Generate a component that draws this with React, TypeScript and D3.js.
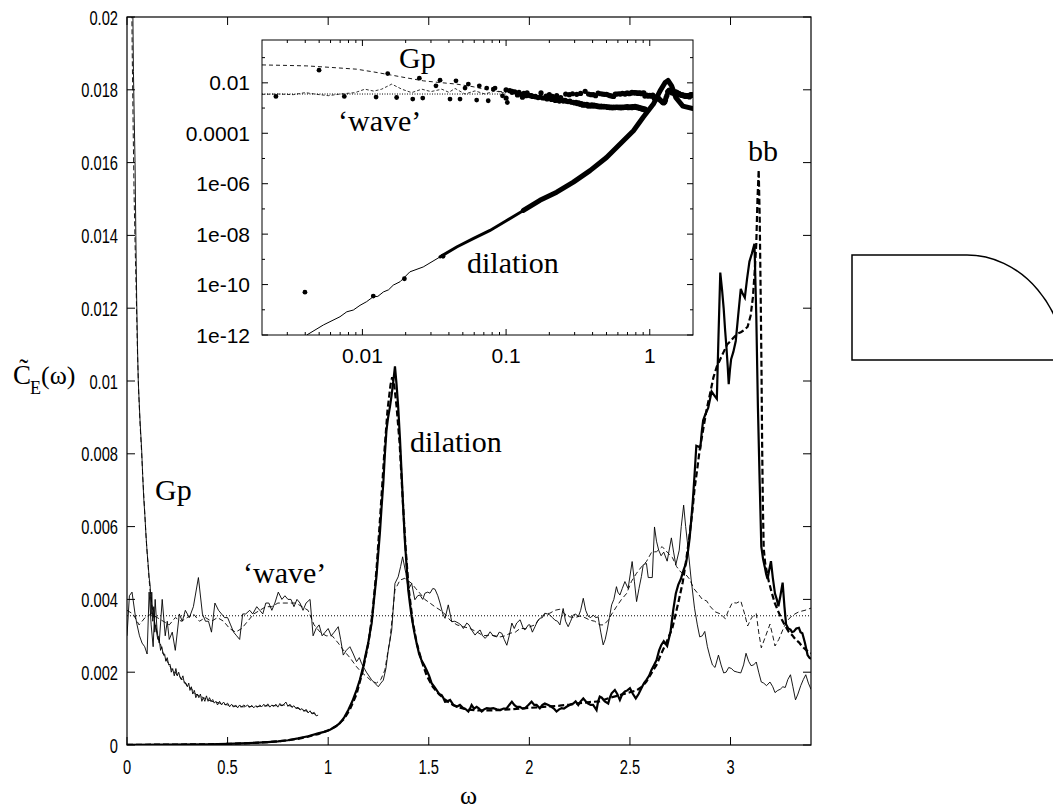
import React from 'react';
import * as d3 from 'd3';

type P = [number, number];

// ---------- main panel data ----------
const xTicksMain = [0, 0.5, 1, 1.5, 2, 2.5, 3];
const xTickLabelsMain = ['0', '0.5', '1', '1.5', '2', '2.5', '3'];
const yTicksMain = [0, 0.002, 0.004, 0.006, 0.008, 0.01, 0.012, 0.014, 0.016, 0.018, 0.02];
const yTickLabelsMain = ['0', '0.002', '0.004', '0.006', '0.008', '0.01', '0.012', '0.014', '0.016', '0.018', '0.02'];

const waveContinuum: P[] = [[0, 0.00355], [3.4, 0.00355]];

const gpSolid: P[] = [[0.028,0.0208],[0.032,0.0185],[0.036,0.0172],[0.04,0.016],[0.044,0.014],[0.048,0.0123],[0.052,0.011],[0.056,0.01],[0.06,0.0095],[0.064,0.009],[0.068,0.0086],[0.073,0.0081],[0.078,0.0074],[0.083,0.0068],[0.089,0.0063],[0.094,0.0058],[0.1,0.0053],[0.106,0.0049],[0.11,0.0046],[0.115,0.0044],[0.12,0.0036],[0.123,0.0042],[0.128,0.0034],[0.133,0.0038],[0.138,0.0031],[0.143,0.0033],[0.147,0.0031],[0.153,0.0029],[0.16,0.0029],[0.167,0.0026],[0.173,0.0027],[0.18,0.0025],[0.187,0.0025],[0.193,0.0023],[0.2,0.0024],[0.207,0.0022],[0.214,0.00222],[0.22,0.002],[0.227,0.0021],[0.235,0.0019],[0.243,0.0021],[0.25,0.0019],[0.257,0.002],[0.263,0.00188],[0.27,0.0018],[0.278,0.0019],[0.285,0.0017],[0.293,0.0017],[0.3,0.0016],[0.307,0.0017],[0.313,0.0015],[0.32,0.0016],[0.327,0.0014],[0.335,0.0015],[0.342,0.0013],[0.35,0.0014],[0.357,0.0013],[0.365,0.0014],[0.372,0.0012],[0.379,0.0013],[0.387,0.0012],[0.395,0.00135],[0.403,0.0012],[0.41,0.0013],[0.418,0.0012],[0.426,0.00125],[0.434,0.00115],[0.442,0.0012],[0.45,0.0011],[0.46,0.0012],[0.47,0.0011],[0.48,0.00118],[0.49,0.0011],[0.5,0.00115],[0.51,0.00105],[0.52,0.00112],[0.53,0.00104],[0.54,0.0011],[0.55,0.00102],[0.56,0.0011],[0.57,0.00104],[0.58,0.0011],[0.59,0.00106],[0.6,0.0011],[0.61,0.00103],[0.62,0.00109],[0.63,0.00102],[0.64,0.00108],[0.65,0.00104],[0.66,0.0011],[0.67,0.00105],[0.68,0.00112],[0.69,0.00106],[0.7,0.00113],[0.71,0.00104],[0.72,0.0011],[0.73,0.00106],[0.74,0.00112],[0.75,0.00104],[0.76,0.00114],[0.77,0.00107],[0.78,0.00112],[0.79,0.00118],[0.8,0.00106],[0.81,0.00112],[0.82,0.00103],[0.83,0.00108],[0.84,0.001],[0.85,0.00104],[0.86,0.00096],[0.87,0.001],[0.88,0.00092],[0.89,0.00098],[0.9,0.00088],[0.91,0.00094],[0.92,0.00085],[0.93,0.0009],[0.94,0.0008],[0.95,0.00082]];

const gpDashed: P[] = [[0.022,0.0212],[0.026,0.019],[0.03,0.0172],[0.035,0.0152],[0.04,0.0138],[0.046,0.0124],[0.052,0.0108],[0.058,0.0097],[0.065,0.0088],[0.072,0.0081],[0.08,0.0072],[0.088,0.0064],[0.096,0.0056],[0.104,0.005],[0.112,0.0044],[0.12,0.004],[0.13,0.0036],[0.14,0.0033],[0.15,0.0031],[0.16,0.0029],[0.17,0.0027],[0.18,0.0025],[0.19,0.0024],[0.2,0.0023],[0.21,0.0022],[0.22,0.0021],[0.23,0.002],[0.24,0.002],[0.25,0.0019],[0.26,0.0019],[0.27,0.0018],[0.28,0.0018],[0.3,0.0016],[0.32,0.00155],[0.34,0.0014],[0.36,0.00135],[0.38,0.0013],[0.4,0.00125],[0.42,0.0012],[0.44,0.00118],[0.46,0.00115],[0.48,0.00112],[0.5,0.0011],[0.52,0.00108],[0.54,0.00106],[0.56,0.00105],[0.58,0.00105],[0.6,0.00105],[0.62,0.00106],[0.64,0.00105],[0.66,0.00106],[0.68,0.00107],[0.7,0.00108],[0.72,0.00108],[0.74,0.00108],[0.76,0.00109],[0.78,0.0011],[0.8,0.00109],[0.82,0.00106],[0.84,0.00102],[0.86,0.00099],[0.88,0.00095],[0.9,0.00092],[0.92,0.00088],[0.94,0.00084],[0.95,0.00082]];

const waveSolid: P[] = [[0,0.003],[0.012,0.0041],[0.025,0.0042],[0.04,0.0036],[0.05,0.0033],[0.062,0.003],[0.075,0.0028],[0.088,0.0027],[0.1,0.0025],[0.11,0.0042],[0.12,0.0033],[0.13,0.0027],[0.14,0.004],[0.15,0.0031],[0.16,0.0028],[0.175,0.004],[0.19,0.003],[0.2,0.0034],[0.21,0.0029],[0.225,0.0031],[0.24,0.0026],[0.26,0.0036],[0.275,0.0034],[0.29,0.0037],[0.31,0.0035],[0.33,0.0038],[0.355,0.0046],[0.375,0.0036],[0.39,0.0034],[0.405,0.0034],[0.42,0.0031],[0.437,0.0039],[0.455,0.0037],[0.47,0.0036],[0.485,0.0035],[0.5,0.0035],[0.515,0.0033],[0.53,0.0031],[0.545,0.003],[0.56,0.0029],[0.575,0.0036],[0.59,0.0036],[0.61,0.0037],[0.625,0.0036],[0.645,0.0038],[0.66,0.0037],[0.675,0.0036],[0.69,0.0039],[0.705,0.0039],[0.72,0.0037],[0.735,0.0039],[0.752,0.0042],[0.77,0.004],[0.785,0.0041],[0.8,0.004],[0.815,0.004],[0.83,0.0038],[0.845,0.004],[0.86,0.0039],[0.875,0.0037],[0.89,0.0039],[0.91,0.004],[0.925,0.003],[0.94,0.0032],[0.955,0.0033],[0.97,0.003],[0.985,0.0031],[1,0.0032],[1.015,0.003],[1.03,0.0031],[1.05,0.00325],[1.062,0.0029],[1.075,0.00247],[1.09,0.0026],[1.108,0.0027],[1.125,0.0025],[1.141,0.00229],[1.155,0.0024],[1.166,0.00224],[1.19,0.002],[1.216,0.00179],[1.235,0.00168],[1.249,0.0016],[1.262,0.0017],[1.274,0.00178],[1.287,0.0021],[1.299,0.00261],[1.316,0.00316],[1.332,0.00444],[1.348,0.00462],[1.36,0.0049],[1.37,0.00517],[1.386,0.00472],[1.398,0.00426],[1.415,0.00444],[1.431,0.00399],[1.445,0.0041],[1.456,0.00412],[1.47,0.004],[1.481,0.00417],[1.495,0.0042],[1.506,0.00417],[1.52,0.0043],[1.531,0.00428],[1.545,0.0041],[1.556,0.0039],[1.57,0.0036],[1.581,0.00348],[1.597,0.00385],[1.614,0.00339],[1.63,0.0034],[1.647,0.00335],[1.66,0.0033],[1.672,0.0032],[1.689,0.00335],[1.7,0.0033],[1.713,0.00316],[1.73,0.00302],[1.742,0.0031],[1.755,0.00316],[1.768,0.003],[1.78,0.00293],[1.792,0.003],[1.805,0.00311],[1.82,0.003],[1.838,0.00297],[1.85,0.0031],[1.863,0.00307],[1.875,0.0029],[1.888,0.00274],[1.9,0.003],[1.913,0.00335],[1.925,0.0032],[1.937,0.00335],[1.954,0.00344],[1.97,0.0032],[1.978,0.00316],[1.995,0.0033],[2.003,0.0033],[2.015,0.0031],[2.028,0.00325],[2.04,0.0034],[2.052,0.00348],[2.065,0.0035],[2.077,0.00362],[2.09,0.0036],[2.102,0.00357],[2.115,0.0035],[2.127,0.00343],[2.14,0.0034],[2.152,0.0033],[2.168,0.00375],[2.18,0.0034],[2.193,0.00325],[2.205,0.0034],[2.218,0.00357],[2.23,0.0036],[2.243,0.00352],[2.255,0.0037],[2.268,0.00403],[2.28,0.0037],[2.292,0.00354],[2.305,0.0035],[2.317,0.00357],[2.33,0.0035],[2.342,0.00352],[2.355,0.0031],[2.367,0.00275],[2.377,0.0029],[2.387,0.00316],[2.398,0.0035],[2.409,0.00385],[2.42,0.004],[2.433,0.00435],[2.44,0.0042],[2.45,0.00412],[2.462,0.0043],[2.475,0.00449],[2.491,0.0043],[2.511,0.00504],[2.522,0.0045],[2.533,0.00394],[2.545,0.0043],[2.557,0.00463],[2.566,0.00495],[2.582,0.00499],[2.591,0.0046],[2.611,0.0046],[2.622,0.00599],[2.632,0.0056],[2.643,0.00535],[2.655,0.0052],[2.668,0.0053],[2.685,0.00505],[2.706,0.00569],[2.717,0.0053],[2.728,0.00495],[2.745,0.00535],[2.755,0.006],[2.767,0.00659],[2.777,0.006],[2.787,0.0055],[2.804,0.00456],[2.821,0.00376],[2.835,0.0033],[2.847,0.00297],[2.86,0.003],[2.872,0.00312],[2.885,0.0027],[2.898,0.00242],[2.91,0.0022],[2.923,0.00213],[2.94,0.00247],[2.953,0.0022],[2.966,0.00198],[2.978,0.002],[2.991,0.00213],[3.005,0.0021],[3.017,0.00203],[3.035,0.002],[3.051,0.00198],[3.065,0.0022],[3.077,0.00252],[3.09,0.0023],[3.102,0.00218],[3.115,0.0022],[3.128,0.00228],[3.14,0.002],[3.153,0.00173],[3.165,0.0017],[3.179,0.00163],[3.196,0.00173],[3.21,0.0016],[3.221,0.00144],[3.235,0.0015],[3.247,0.00153],[3.26,0.0016],[3.272,0.00158],[3.285,0.0018],[3.298,0.00193],[3.31,0.0016],[3.323,0.00124],[3.335,0.0014],[3.349,0.00163],[3.362,0.0018],[3.374,0.00193],[3.387,0.0017],[3.4,0.00153]];

const waveDashed: P[] = [[0,0.0037],[0.03,0.0036],[0.06,0.0033],[0.09,0.0035],[0.12,0.0036],[0.15,0.0035],[0.18,0.0034],[0.21,0.0033],[0.24,0.0035],[0.27,0.0034],[0.3,0.0035],[0.33,0.0036],[0.36,0.0034],[0.39,0.0035],[0.42,0.0034],[0.45,0.0035],[0.48,0.0034],[0.51,0.0032],[0.54,0.0031],[0.57,0.0032],[0.6,0.0034],[0.63,0.0036],[0.66,0.0037],[0.69,0.0038],[0.72,0.0038],[0.75,0.0039],[0.78,0.0039],[0.81,0.0039],[0.84,0.0039],[0.87,0.0038],[0.9,0.0037],[0.93,0.0033],[0.96,0.0031],[0.99,0.003],[1.02,0.003],[1.05,0.0028],[1.075,0.00261],[1.108,0.0024],[1.141,0.00215],[1.165,0.002],[1.191,0.00188],[1.215,0.00176],[1.24,0.0017],[1.262,0.0018],[1.282,0.00206],[1.295,0.0025],[1.307,0.00288],[1.32,0.0036],[1.332,0.00426],[1.345,0.0044],[1.357,0.00453],[1.381,0.00458],[1.4,0.0045],[1.415,0.00444],[1.435,0.0043],[1.456,0.00417],[1.48,0.004],[1.506,0.0039],[1.53,0.0038],[1.556,0.00371],[1.58,0.0036],[1.606,0.00343],[1.64,0.0033],[1.672,0.00325],[1.705,0.0032],[1.738,0.00311],[1.77,0.003],[1.805,0.00302],[1.83,0.003],[1.855,0.00297],[1.88,0.003],[1.904,0.00307],[1.93,0.0031],[1.954,0.0032],[1.98,0.0032],[2.003,0.00325],[2.028,0.0033],[2.052,0.00348],[2.077,0.0036],[2.102,0.00362],[2.127,0.0037],[2.152,0.00373],[2.176,0.0036],[2.201,0.00352],[2.226,0.0035],[2.251,0.00354],[2.276,0.0035],[2.301,0.00343],[2.325,0.0034],[2.35,0.0033],[2.37,0.0033],[2.392,0.00343],[2.41,0.0036],[2.433,0.0038],[2.458,0.004],[2.483,0.00416],[2.508,0.0045],[2.533,0.00472],[2.558,0.0049],[2.582,0.00504],[2.608,0.0053],[2.632,0.00531],[2.66,0.00545],[2.685,0.0053],[2.711,0.00515],[2.732,0.0049],[2.753,0.00475],[2.775,0.0047],[2.796,0.00456],[2.817,0.0043],[2.838,0.00416],[2.86,0.004],[2.881,0.00396],[2.9,0.0038],[2.923,0.00366],[2.95,0.0036],[2.974,0.00347],[2.99,0.0037],[3.009,0.00391],[3.03,0.0039],[3.051,0.00396],[3.07,0.0036],[3.085,0.00327],[3.105,0.0035],[3.128,0.00361],[3.14,0.0031],[3.153,0.00267],[3.175,0.003],[3.196,0.00332],[3.21,0.003],[3.221,0.00272],[3.24,0.0029],[3.264,0.00322],[3.28,0.0034],[3.298,0.00351],[3.32,0.0036],[3.34,0.00366],[3.37,0.0037],[3.4,0.00376]];

const dilationSolid: P[] = [[0,0.000005],[0.2,0.00001],[0.4,0.00002],[0.5,0.00003],[0.6,0.00005],[0.7,0.00008],[0.75,0.0001],[0.8,0.00013],[0.85,0.00018],[0.9,0.00024],[0.95,0.00032],[0.98,0.00036],[1.009,0.00042],[1.035,0.0005],[1.058,0.0006],[1.08,0.00076],[1.1,0.00096],[1.12,0.0012],[1.141,0.00151],[1.158,0.0018],[1.174,0.00215],[1.187,0.0025],[1.199,0.0028],[1.208,0.0031],[1.216,0.00334],[1.228,0.004],[1.24,0.00463],[1.248,0.0052],[1.257,0.00582],[1.265,0.0065],[1.274,0.00719],[1.282,0.008],[1.29,0.00866],[1.298,0.009],[1.307,0.00929],[1.315,0.0096],[1.324,0.01],[1.332,0.0104],[1.34,0.0099],[1.348,0.00929],[1.357,0.0084],[1.365,0.00746],[1.373,0.0065],[1.381,0.00563],[1.39,0.0049],[1.398,0.00426],[1.406,0.0039],[1.415,0.00352],[1.428,0.0031],[1.44,0.00279],[1.452,0.0025],[1.464,0.00233],[1.477,0.0022],[1.489,0.00206],[1.502,0.0019],[1.514,0.0017],[1.527,0.0016],[1.539,0.00151],[1.552,0.0014],[1.564,0.00137],[1.572,0.0013],[1.581,0.00119],[1.593,0.0012],[1.606,0.00124],[1.622,0.0011],[1.639,0.00105],[1.655,0.0011],[1.672,0.00101],[1.685,0.00098],[1.697,0.00092],[1.705,0.001],[1.713,0.0011],[1.725,0.001],[1.738,0.00105],[1.75,0.001],[1.763,0.00092],[1.775,0.00098],[1.788,0.00101],[1.805,0.001],[1.821,0.00101],[1.838,0.00098],[1.855,0.00096],[1.872,0.001],[1.888,0.00101],[1.9,0.0011],[1.913,0.00119],[1.925,0.0011],[1.937,0.00105],[1.953,0.00105],[1.966,0.001],[1.978,0.00101],[1.995,0.0011],[2.011,0.00119],[2.024,0.0011],[2.036,0.0011],[2.052,0.00101],[2.065,0.0011],[2.077,0.00114],[2.094,0.0011],[2.11,0.00105],[2.122,0.001],[2.135,0.00092],[2.148,0.00098],[2.16,0.00101],[2.172,0.001],[2.185,0.00105],[2.2,0.0011],[2.218,0.00114],[2.23,0.0012],[2.243,0.0011],[2.255,0.0012],[2.268,0.00128],[2.28,0.0012],[2.292,0.00114],[2.305,0.0011],[2.317,0.0011],[2.334,0.00096],[2.342,0.0012],[2.35,0.00133],[2.36,0.0013],[2.375,0.0012],[2.392,0.00114],[2.4,0.0013],[2.409,0.00142],[2.425,0.00151],[2.437,0.0014],[2.45,0.00124],[2.462,0.0014],[2.475,0.00147],[2.487,0.0015],[2.5,0.00156],[2.515,0.0014],[2.529,0.00128],[2.543,0.0014],[2.557,0.00156],[2.57,0.0017],[2.582,0.00179],[2.595,0.0019],[2.607,0.00206],[2.62,0.0022],[2.632,0.00233],[2.645,0.0026],[2.656,0.00275],[2.668,0.00285],[2.685,0.00272],[2.702,0.00312],[2.715,0.0037],[2.728,0.00416],[2.74,0.0044],[2.753,0.00456],[2.766,0.0048],[2.779,0.005],[2.788,0.0053],[2.796,0.00565],[2.805,0.0062],[2.813,0.00674],[2.822,0.0075],[2.83,0.00822],[2.84,0.0082],[2.85,0.00817],[2.857,0.0086],[2.864,0.00892],[2.876,0.0091],[2.889,0.00926],[2.898,0.0095],[2.906,0.00971],[2.92,0.0096],[2.932,0.00951],[2.94,0.0112],[2.949,0.01298],[2.958,0.0125],[2.966,0.01199],[2.973,0.0114],[2.98,0.0109],[2.986,0.0104],[2.991,0.00991],[2.997,0.0103],[3.003,0.0106],[3.014,0.0108],[3.026,0.0111],[3.038,0.0118],[3.051,0.01253],[3.06,0.0124],[3.071,0.01229],[3.082,0.0128],[3.094,0.01328],[3.106,0.0135],[3.119,0.01377],[3.128,0.0118],[3.136,0.00931],[3.145,0.0072],[3.153,0.00545],[3.162,0.0051],[3.17,0.0049],[3.177,0.0047],[3.184,0.00456],[3.192,0.0048],[3.201,0.00505],[3.21,0.0046],[3.221,0.00416],[3.23,0.004],[3.238,0.00381],[3.248,0.0041],[3.259,0.00446],[3.268,0.0038],[3.276,0.00332],[3.287,0.0032],[3.298,0.00317],[3.306,0.0031],[3.315,0.00312],[3.327,0.0032],[3.34,0.00322],[3.348,0.0031],[3.357,0.00307],[3.37,0.0028],[3.383,0.00247],[3.392,0.0024],[3.4,0.00237]];

const bbDashed: P[] = [[0,0.000005],[0.2,0.00001],[0.4,0.00002],[0.5,0.00003],[0.6,0.00005],[0.7,0.00008],[0.75,0.0001],[0.8,0.00013],[0.85,0.00017],[0.9,0.00023],[0.95,0.0003],[1,0.0004],[1.04,0.00052],[1.08,0.00072],[1.11,0.001],[1.141,0.0014],[1.17,0.002],[1.2,0.0028],[1.22,0.0036],[1.24,0.0048],[1.26,0.0064],[1.28,0.0081],[1.295,0.0092],[1.31,0.0099],[1.318,0.0101],[1.328,0.0099],[1.34,0.0093],[1.355,0.0083],[1.37,0.0068],[1.385,0.0054],[1.4,0.0043],[1.42,0.0034],[1.44,0.0028],[1.465,0.0023],[1.49,0.0019],[1.52,0.0016],[1.55,0.0014],[1.58,0.00125],[1.62,0.0011],[1.66,0.00102],[1.7,0.00097],[1.75,0.00095],[1.8,0.00095],[1.85,0.00096],[1.9,0.00098],[1.95,0.001],[2,0.00102],[2.05,0.00104],[2.1,0.00106],[2.15,0.00108],[2.2,0.00111],[2.25,0.00115],[2.3,0.00118],[2.35,0.0012],[2.4,0.0013],[2.45,0.00137],[2.5,0.00145],[2.533,0.0015],[2.56,0.0016],[2.582,0.00174],[2.61,0.002],[2.632,0.0022],[2.655,0.0025],[2.68,0.0028],[2.711,0.00322],[2.74,0.0039],[2.762,0.00446],[2.78,0.0051],[2.796,0.00575],[2.81,0.0064],[2.821,0.00703],[2.835,0.0076],[2.847,0.00812],[2.865,0.0087],[2.881,0.00921],[2.9,0.0097],[2.915,0.0101],[2.932,0.0104],[2.949,0.0106],[2.966,0.0108],[2.983,0.011],[3,0.0111],[3.017,0.0112],[3.034,0.0113],[3.051,0.01134],[3.068,0.0114],[3.085,0.01149],[3.1,0.0118],[3.111,0.01229],[3.12,0.013],[3.128,0.01377],[3.134,0.015],[3.14,0.0158],[3.145,0.0145],[3.15,0.0123],[3.154,0.0103],[3.157,0.0083],[3.161,0.0065],[3.165,0.0054],[3.172,0.005],[3.179,0.0048],[3.19,0.0045],[3.204,0.0042],[3.22,0.0039],[3.238,0.00366],[3.255,0.00345],[3.272,0.00327],[3.29,0.0031],[3.306,0.00302],[3.323,0.0029],[3.34,0.00282],[3.357,0.0027],[3.374,0.00262],[3.39,0.00255],[3.4,0.00252]];

// ---------- inset (log-log) data ----------
const insetXTicks = [0.01, 0.1, 1];
const insetXTickLabels = ['0.01', '0.1', '1'];
const insetYTicks = [1e-12, 1e-10, 1e-8, 1e-6, 1e-4, 1e-2];
const insetYTickLabels = ['1e-12', '1e-10', '1e-08', '1e-06', '0.0001', '0.01'];
const insetYMinorTicks = [1e-11, 1e-9, 1e-7, 1e-5, 1e-3, 1e-1];

const gpTheoryInset: P[] = [[0.002,0.0514],[0.003,0.049],[0.0041,0.047],[0.006,0.041],[0.0091,0.0348],[0.012,0.027],[0.0156,0.0207],[0.02,0.016],[0.0266,0.012],[0.035,0.0102],[0.0453,0.0089],[0.059,0.007],[0.0773,0.0051],[0.1,0.0042]];
const waveFlatInset: P[] = [[0.002, 0.0036], [0.1, 0.0036]];
const waveTheoryInset: P[] = [[0.002,0.0035],[0.0026,0.0036],[0.0033,0.0034],[0.004,0.0041],[0.0048,0.0035],[0.0058,0.0031],[0.007,0.0036],[0.0089,0.0041],[0.0104,0.0056],[0.012,0.0047],[0.0136,0.0056],[0.016,0.0089],[0.0188,0.0056],[0.022,0.0041],[0.0259,0.0056],[0.03,0.0045],[0.0357,0.0056],[0.04,0.0042],[0.0441,0.006],[0.0518,0.0036],[0.0608,0.0048],[0.0713,0.0036],[0.0838,0.0048],[0.1,0.0038]];
const dilationInset: P[] = [[0.0041,1e-12],[0.00535,2.5e-12],[0.00698,5.3e-12],[0.00778,8.3e-12],[0.00865,9.8e-12],[0.00962,1.5e-11],[0.0107,2.1e-11],[0.0119,3.3e-11],[0.0128,3.4e-11],[0.014,5.1e-11],[0.0152,6.2e-11],[0.0164,9.5e-11],[0.0183,1.3e-10],[0.0214,3.2e-10],[0.0265,5e-10],[0.0347,1.25e-9],[0.0453,3.1e-9],[0.059,6.6e-9],[0.0773,1.4e-8],[0.101,3.5e-8],[0.132,8.7e-8],[0.172,2.2e-7],[0.225,4.6e-7],[0.294,1.15e-6],[0.384,3.3e-6],[0.5,1.1e-5],[0.655,5.1e-5],[0.77,1.26e-4],[0.9,4.3e-4],[1.06,1.44e-3],[1.18,0.0048],[1.28,0.0103],[1.34,0.0124],[1.42,0.0076],[1.52,0.0026],[1.7,0.0012],[2,0.00096]];
const gpDotsInset: P[] = [[0.00499,0.0318],[0.015,0.0233],[0.0249,0.0153],[0.0347,0.0128],[0.0448,0.012],[0.0546,0.0089],[0.0651,0.0076],[0.0733,0.0062],[0.0838,0.0062]];
const waveDotsInset: P[] = [[0.0025,0.00288],[0.00748,0.00288],[0.01245,0.00272],[0.0173,0.00262],[0.0224,0.00227],[0.0263,0.00249],[0.0325,0.0076],[0.0407,0.00227],[0.0478,0.00227],[0.0518,0.0062],[0.0624,0.00207],[0.0751,0.00195],[0.0815,0.00564],[0.0944,0.00306],[0.102,0.00166]];
const dilationDotsInset: P[] = [[0.00398,5e-11],[0.0119,3.5e-11],[0.0196,1.7e-10],[0.0364,1.33e-9]];

// ---------- layout ----------
const W = 1053;
const H = 811;
const M = { left: 127, right: 811, top: 17, bottom: 745 };
const IN = { left: 262, right: 693, top: 40, bottom: 335 };

const SANS = 'Liberation Sans, Arial, Helvetica, sans-serif';
const SERIF = 'Liberation Serif, Times New Roman, serif';

export default function App() {
  const x = d3.scaleLinear().domain([0, 3.4]).range([M.left, M.right]);
  const y = d3.scaleLinear().domain([0, 0.02]).range([M.bottom, M.top]);
  const xi = d3.scaleLog().domain([0.002, 2]).range([IN.left, IN.right]);
  const yi = d3.scaleLog().domain([1e-12, 0.5]).range([IN.bottom, IN.top]);

  const line = d3.line<P>().x(d => x(d[0])).y(d => y(d[1]));
  const lineI = d3.line<P>().x(d => xi(d[0])).y(d => yi(d[1]));

  const insetMinorX: number[] = [];
  [0.001, 0.01, 0.1, 1].forEach(dec => {
    for (let k = 2; k <= 9; k++) {
      const v = dec * k;
      if (v > 0.0021 && v < 1.99) insetMinorX.push(v);
    }
  });

  const bandWave = waveSolid.filter(d => d[0] >= 0.1 && d[0] <= 2);
  const bandGp = gpSolid.filter(d => d[0] >= 0.1);
  const dilMid = dilationInset.filter(d => d[0] >= 0.03 && d[0] <= 0.14);
  const dilThick = dilationInset.filter(d => d[0] >= 0.13);

  const TL = 8;
  const TLi = 6;
  const TLm = 3;

  return (
    <svg width={W} height={H} style={{ position: 'absolute', left: 0, top: 0, background: '#fff' }}>
      <defs>
        <clipPath id="mainClip">
          <rect x={M.left} y={M.top} width={M.right - M.left} height={M.bottom - M.top} />
        </clipPath>
        <clipPath id="insetClip">
          <rect x={IN.left} y={IN.top} width={IN.right - IN.left} height={IN.bottom - IN.top} />
        </clipPath>
      </defs>
      <rect x={0} y={0} width={W} height={H} fill="#fff" />

      {/* main curves */}
      <g clipPath="url(#mainClip)" fill="none" stroke="#000">
        <path d={line(waveContinuum) || ''} strokeWidth={1} strokeDasharray="1,2" />
        <path d={line(waveDashed) || ''} strokeWidth={0.9} strokeDasharray="5,3" />
        <path d={line(waveSolid) || ''} strokeWidth={0.9} />
        <path d={line(gpDashed) || ''} strokeWidth={0.9} strokeDasharray="5,3" />
        <path d={line(gpSolid) || ''} strokeWidth={0.9} />
        <path d={line(bbDashed) || ''} strokeWidth={2.2} strokeDasharray="6,3" />
        <path d={line(dilationSolid) || ''} strokeWidth={2.2} />
      </g>

      {/* main frame and ticks */}
      <rect x={M.left} y={M.top} width={M.right - M.left} height={M.bottom - M.top} fill="none" stroke="#000" strokeWidth={1.2} />
      {yTicksMain.map((t, i) => (
        <g key={'yt' + i}>
          <line x1={M.left} x2={M.left + TL} y1={y(t)} y2={y(t)} stroke="#000" />
          <line x1={M.right} x2={M.right - TL} y1={y(t)} y2={y(t)} stroke="#000" />
          <text transform={`translate(${M.left - 9},${y(t) + 7.5}) scale(0.7,1)`} textAnchor="end" fontFamily={SANS} fontSize={21}>{yTickLabelsMain[i]}</text>
        </g>
      ))}
      {xTicksMain.map((t, i) => (
        <g key={'xt' + i}>
          <line x1={x(t)} x2={x(t)} y1={M.bottom} y2={M.bottom - TL} stroke="#000" />
          <line x1={x(t)} x2={x(t)} y1={M.top} y2={M.top + TL} stroke="#000" />
          <text transform={`translate(${x(t)},${M.bottom + 29}) scale(0.7,1)`} textAnchor="middle" fontFamily={SANS} fontSize={21}>{xTickLabelsMain[i]}</text>
        </g>
      ))}

      {/* axis labels */}
      <text x={460} y={804} fontFamily={SERIF} fontSize={26}>ω</text>
      <g fontFamily={SERIF}>
        <text x={13} y={384} fontSize={27}>{'C\u0303'}</text>
        <text x={30} y={394} fontSize={18}>E</text>
        <text x={41} y={384} fontSize={26}>(ω)</text>
      </g>

      {/* main labels */}
      <g fontFamily={SERIF} fontSize={30}>
        <text x={155} y={500}>Gp</text>
        <text x={243} y={583}>‘wave’</text>
        <text x={410} y={452}>dilation</text>
        <text x={748} y={161}>bb</text>
      </g>

      {/* inset */}
      <rect x={IN.left} y={IN.top} width={IN.right - IN.left} height={IN.bottom - IN.top} fill="#fff" />
      <g clipPath="url(#insetClip)" fill="none" stroke="#000">
        <path d={lineI(gpTheoryInset) || ''} strokeWidth={0.9} strokeDasharray="4,3" />
        <path d={lineI(waveFlatInset) || ''} strokeWidth={1} strokeDasharray="1,1.5" />
        <path d={lineI(waveTheoryInset) || ''} strokeWidth={0.8} strokeDasharray="3,2" />
        <path d={lineI(dilationInset) || ''} strokeWidth={1} />
        <path d={lineI(dilMid) || ''} strokeWidth={3} strokeLinecap="round" />
        <path d={lineI(dilThick) || ''} strokeWidth={5} strokeLinecap="round" strokeLinejoin="round" />
      </g>
      <g clipPath="url(#insetClip)" fill="#000">
        {bandWave.map((d, i) => <circle key={'bw' + i} cx={xi(d[0])} cy={yi(d[1])} r={2.6} />)}
        {bandGp.map((d, i) => <circle key={'bg' + i} cx={xi(d[0])} cy={yi(d[1])} r={2.6} />)}
        {gpDotsInset.map((d, i) => <circle key={'gd' + i} cx={xi(d[0])} cy={yi(d[1])} r={2.4} />)}
        {waveDotsInset.map((d, i) => <circle key={'wd' + i} cx={xi(d[0])} cy={yi(d[1])} r={2.4} />)}
        {dilationDotsInset.map((d, i) => <circle key={'dd' + i} cx={xi(d[0])} cy={yi(d[1])} r={2.4} />)}
      </g>
      <rect x={IN.left} y={IN.top} width={IN.right - IN.left} height={IN.bottom - IN.top} fill="none" stroke="#000" strokeWidth={1} />
      {insetYTicks.map((t, i) => (
        <g key={'iyt' + i}>
          <line x1={IN.left} x2={IN.left + TLi} y1={yi(t)} y2={yi(t)} stroke="#000" />
          <line x1={IN.right} x2={IN.right - TLi} y1={yi(t)} y2={yi(t)} stroke="#000" />
          <text x={IN.left - 12} y={yi(t) + 7.5} textAnchor="end" fontFamily={SANS} fontSize={21}>{insetYTickLabels[i]}</text>
        </g>
      ))}
      {insetYMinorTicks.map((t, i) => (
        <g key={'iym' + i}>
          <line x1={IN.left} x2={IN.left + TLm} y1={yi(t)} y2={yi(t)} stroke="#000" />
          <line x1={IN.right} x2={IN.right - TLm} y1={yi(t)} y2={yi(t)} stroke="#000" />
        </g>
      ))}
      {insetXTicks.map((t, i) => (
        <g key={'ixt' + i}>
          <line x1={xi(t)} x2={xi(t)} y1={IN.bottom} y2={IN.bottom - TLi} stroke="#000" />
          <line x1={xi(t)} x2={xi(t)} y1={IN.top} y2={IN.top + TLi} stroke="#000" />
          <text x={xi(t)} y={IN.bottom + 28} textAnchor="middle" fontFamily={SANS} fontSize={21}>{insetXTickLabels[i]}</text>
        </g>
      ))}
      {insetMinorX.map((t, i) => (
        <g key={'ixm' + i}>
          <line x1={xi(t)} x2={xi(t)} y1={IN.bottom} y2={IN.bottom - TLm} stroke="#000" />
          <line x1={xi(t)} x2={xi(t)} y1={IN.top} y2={IN.top + TLm} stroke="#000" />
        </g>
      ))}
      <g fontFamily={SERIF} fontSize={30}>
        <text x={399} y={68}>Gp</text>
        <text x={338} y={131}>‘wave’</text>
        <text x={467} y={273}>dilation</text>
      </g>

      {/* cropped shape at right */}
      <path d="M1060,360 H852 V255 H967 A100,118.4 0 0 1 1067,373.4" fill="none" stroke="#000" strokeWidth={1.5} />
    </svg>
  );
}
